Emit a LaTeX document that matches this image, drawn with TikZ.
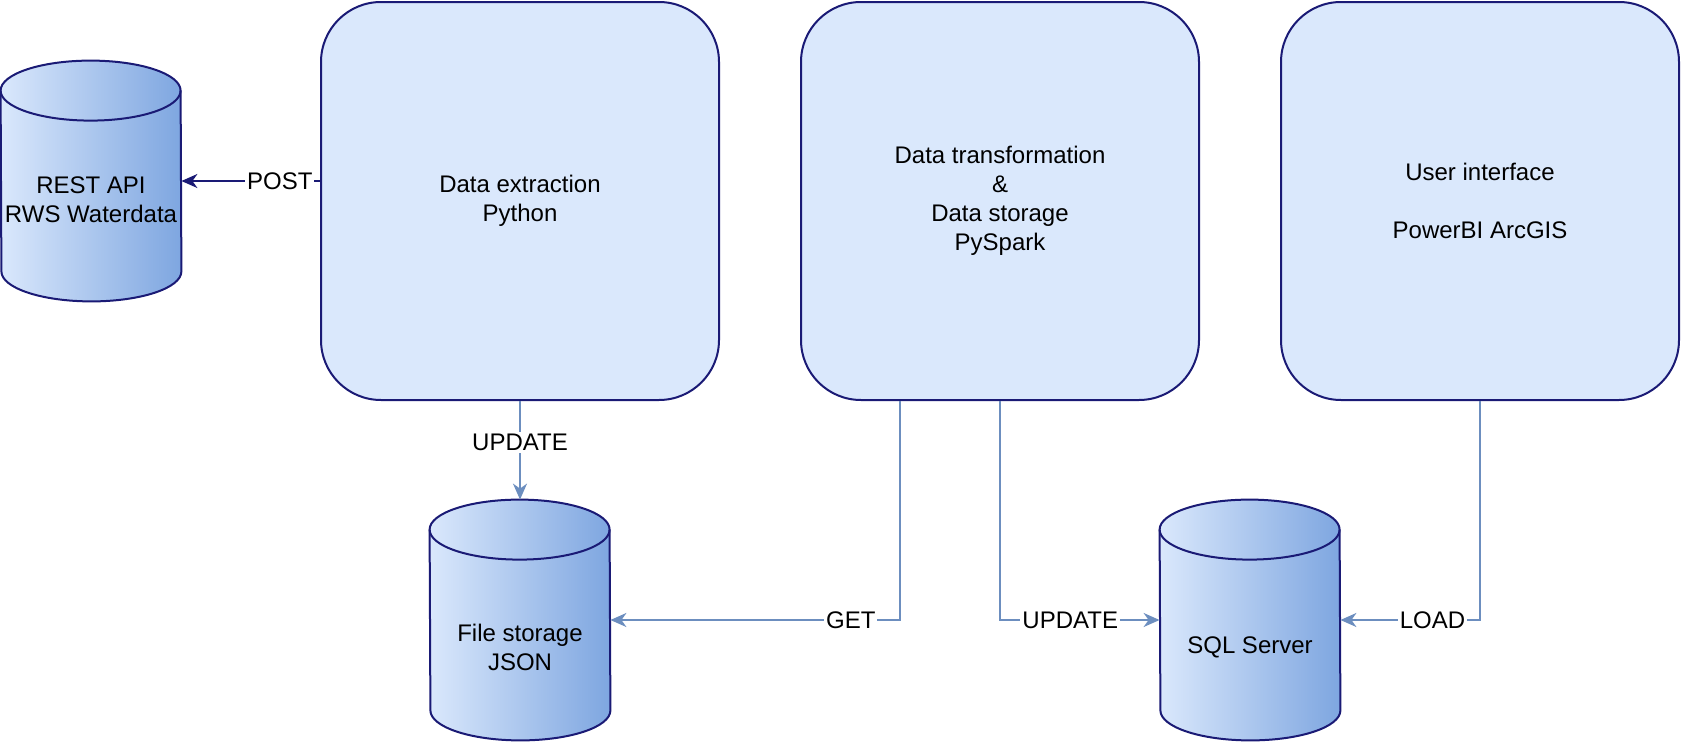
\documentclass[tikz,border=0pt]{standalone}
\usepackage{fontspec}
\setmainfont{Liberation Sans}
\usetikzlibrary{arrows.meta,calc}
\definecolor{boxfill}{HTML}{DAE8FC}
\definecolor{navy}{HTML}{1A1A75}
\definecolor{cylL}{HTML}{DAE8FC}
\definecolor{cylR}{HTML}{7EA6E0}
\definecolor{conn}{HTML}{6C8EBF}
\tikzset{
  procbox/.style={draw=navy, fill=boxfill, line width=1pt, rounded corners=30pt,
    minimum width=199pt, minimum height=199pt, align=center, inner sep=0pt,
    font=\fontsize{12}{14.5}\selectfont},
  cylbox/.style={minimum width=90pt, minimum height=120pt, inner sep=0pt},
  cyltext/.style={align=center, font=\fontsize{12}{14.5}\selectfont},
  lbl/.style={fill=white, inner sep=1pt, font=\fontsize{12}{14.5}\selectfont},
  connector/.style={draw=conn, line width=1pt, -{Stealth[length=8pt,width=7pt,inset=2.5pt]}},
  postconn/.style={draw=navy, line width=1pt, -{Stealth[length=8pt,width=7pt,inset=2.5pt]}}
}
\newcommand\mycyl[3]{%
  \node[cylbox] (#1) at (#2,#3) {};
  \shade[left color=cylL, right color=cylR, draw=navy, line width=1pt]
    ([yshift=-15pt]#1.north west) arc[start angle=180, end angle=0, x radius=45pt, y radius=15pt]
    -- ([yshift=15pt]#1.south east) arc[start angle=0, end angle=-180, x radius=45pt, y radius=15pt]
    -- cycle;
  \draw[navy, line width=1pt] ([yshift=-15pt]#1.north west) arc[start angle=180, end angle=360, x radius=45pt, y radius=15pt];
}
\begin{document}
\begin{tikzpicture}[x=0.5pt, y=-0.5pt]
\useasboundingbox (0,0) rectangle (1682,744);

% process boxes
\node[procbox] (extract) at (520,201) {Data extraction\\Python};
\node[procbox] (transform) at (1000,201) {Data transformation\\\&\\Data storage\\PySpark};
\node[procbox] (ui) at (1480,201) {User interface\\[14.5pt]PowerBI ArcGIS};

% cylinders
\mycyl{rest}{91}{181}
\node[cyltext] (resttext) at (91,200) {REST API\\RWS Waterdata};
\mycyl{files}{520}{620}
\node[cyltext] (filestext) at (520,647) {File storage\\JSON};
\mycyl{sql}{1250}{620}
\node[cyltext] (sqltext) at (1250,647) {SQL Server};

% connectors
\draw[postconn] (extract.west |- rest.east) -- node[lbl, pos=0.29] (lpost) {POST} (rest.east);
\draw[connector] (extract.south) -- node[lbl, pos=0.42] (lupd1) {UPDATE} (files.north);
\draw[connector] ([xshift=-50pt]transform.south) |- node[lbl, pos=0.585] (lget) {GET} (files.east);
\draw[connector] (transform.south) |- node[lbl, pos=0.72] (lupd2) {UPDATE} (sql.west);
\draw[connector] (ui.south) |- node[lbl, pos=0.67] (lload) {LOAD} (sql.east);
\end{tikzpicture}
\end{document}
